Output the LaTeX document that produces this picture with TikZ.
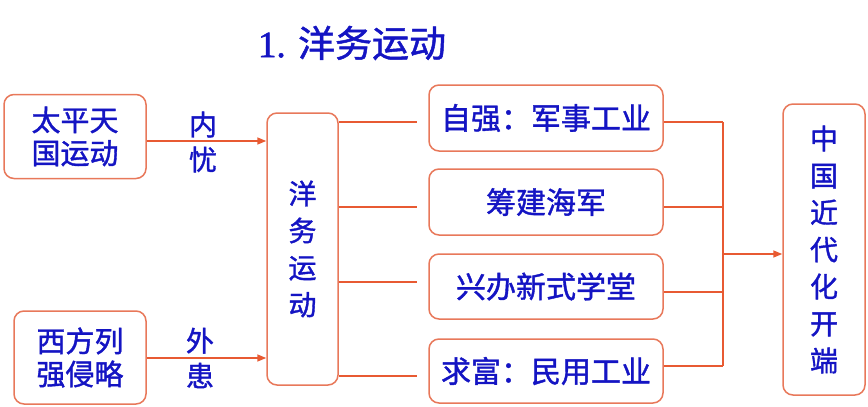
\documentclass[tikz,border=0pt]{standalone}
\usepackage{fontspec}
\newfontfamily\cjk[FakeBold=1.3]{Noto Sans CJK SC}
\newfontfamily\serif[FakeBold=1.5]{Liberation Serif}
\usetikzlibrary{arrows.meta}
\definecolor{txt}{RGB}{20,20,195}
\definecolor{ln}{RGB}{232,90,50}
\definecolor{bd}{RGB}{232,120,90}
\begin{document}
\begin{tikzpicture}[x=1pt,y=-1pt,
  box/.style={draw=bd,line width=1.5pt,rounded corners=10pt,inner sep=0pt,align=center,text=txt,font=\cjk\fontsize{29}{33}\selectfont},
  rbox/.style={box,font=\cjk\fontsize{30}{33}\selectfont},
  vbox/.style={box,font=\cjk\fontsize{28}{37}\selectfont},
  conn/.style={draw=ln,line width=1.5pt},
  arr/.style={conn,-{Triangle[length=9pt,width=7pt]}},
  lbl/.style={text=txt,align=center,inner sep=0pt,font=\cjk\fontsize{28}{35}\selectfont}]
\useasboundingbox (0,0) rectangle (868,407);
\node[text=txt,font=\fontsize{37}{42}\selectfont] (title) at (352,43) {\serif 1. \cjk 洋务运动};
\node[box,minimum width=142pt,minimum height=84pt] (a) at (75,136.5) {太平天\\国运动};
\node[box,minimum width=132pt,minimum height=93pt] (b) at (80,357.5) {西方列\\强侵略};
\node[vbox,minimum width=71pt,minimum height=272pt] (m) at (302.5,249) {洋\\务\\运\\动};
\node[rbox,minimum width=234pt,minimum height=66pt] (r1) at (546,118) {自强：军事工业};
\node[rbox,minimum width=234pt,minimum height=66pt] (r2) at (546,202) {筹建海军};
\node[rbox,minimum width=234pt,minimum height=65pt] (r3) at (546,286.5) {兴办新式学堂};
\node[rbox,minimum width=234pt,minimum height=64pt] (r4) at (546,371) {求富：民用工业};
\node[vbox,minimum width=82pt,minimum height=291pt] (f) at (824,249.5) {中\\国\\近\\代\\化\\开\\端};
\node[lbl] (l1) at (203,142) {内\\忧};
\node[lbl] (l2) at (200,358) {外\\患};
\draw[arr] (a.east |- 0,141) -- (m.west |- 0,141);
\draw[arr] (b.east |- 0,358) -- (m.west |- 0,358);
\foreach \r/\y in {r1/122,r2/207,r3/282,r4/376}{
  \draw[conn] (m.east |- 0,\y) -- ([xshift=-11pt]\r.west |- 0,\y);
}
\coordinate (j1) at (723,122);
\coordinate (j4) at (723,366);
\coordinate (jm) at (723,254);
\draw[conn] (r1.east |- j1) -- (j1);
\draw[conn] (r2.east |- 0,207) -- (723,207);
\draw[conn] (r3.east |- 0,292) -- (723,292);
\draw[conn] (r4.east |- j4) -- (j4);
\draw[conn] (j1) -- (j4);
\draw[arr] (jm) -- (f.west |- jm);
\end{tikzpicture}
\end{document}
